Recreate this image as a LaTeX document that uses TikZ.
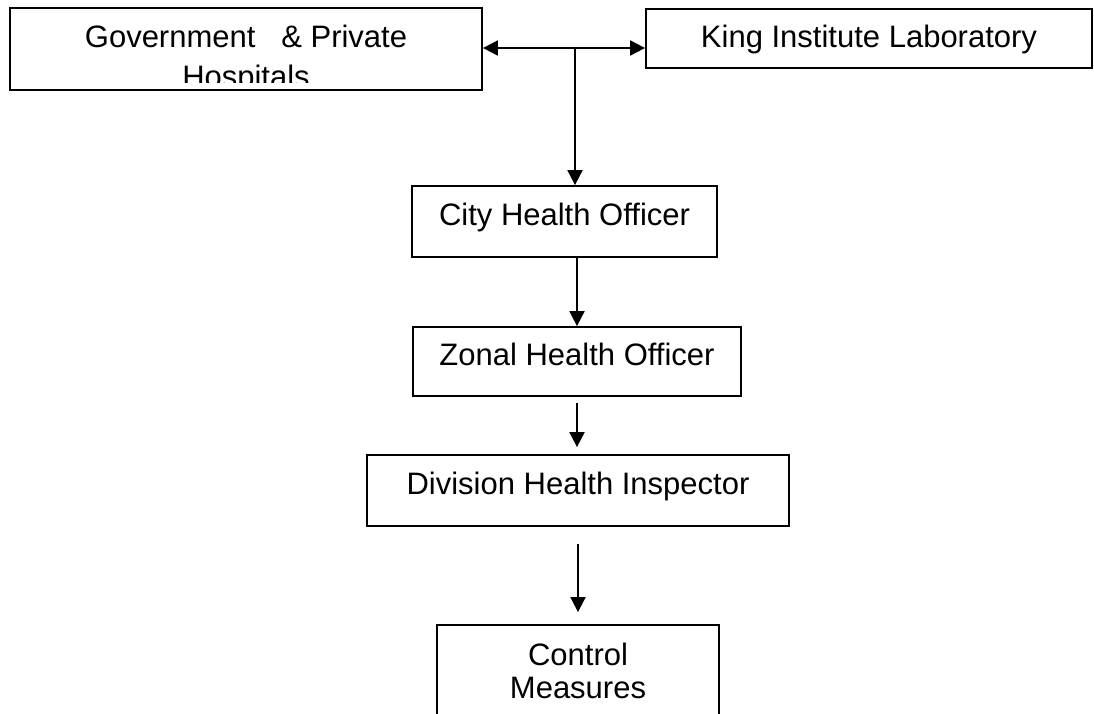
\documentclass[tikz,border=0pt]{standalone}
\usepackage{fontspec}
\setmainfont{Liberation Sans}
\usetikzlibrary{arrows.meta}
\begin{document}
\begin{tikzpicture}[x=1pt, y=-1pt,
  box/.style={draw, line width=1.8pt, inner sep=0pt, rectangle,
    font=\fontsize{31}{40}\selectfont, text height=22pt, text depth=14pt},
  txt/.style={inner sep=0pt, font=\fontsize{31}{40}\selectfont},
  link/.style={line width=1.8pt, -{Triangle[length=15pt, width=15pt]}},
  dlink/.style={line width=1.8pt, {Triangle[length=15pt, width=15pt]}-{Triangle[length=15pt, width=15pt]}}
]
\clip (0,0) rectangle (1094,713);
\fill[white] (0,0) rectangle (1094,713);

% top row
\node[box, minimum width=472pt, minimum height=82pt] (gov) at (246,49) {};
\node[txt, anchor=base] (govA) at (246,47) {Government\ \ \ \& Private};
\begin{scope}
  \clip (gov.north west) rectangle ([yshift=8pt]gov.south east);
  \node[txt, anchor=base] (govB) at (246,87) {Hospitals};
\end{scope}
\node[box, minimum width=446pt, minimum height=59pt, text depth=5pt] (king) at (869,38.5) {King Institute Laboratory};

% chain of officers
\node[box, minimum width=305pt, minimum height=71pt] (city) at (564.5,221.5) {City Health Officer};
\node[box, minimum width=328pt, minimum height=69pt] (zonal) at (577,361.5) {Zonal Health Officer};
\node[box, minimum width=422pt, minimum height=71pt] (div) at (578,490.5) {Division Health Inspector};
\node[box, minimum width=282pt, minimum height=140pt] (ctrl) at (578,695) {};
\node[txt, anchor=base] (ctrlA) at (578,665) {Control};
\node[txt, anchor=base] (ctrlB) at (578,698) {Measures};

% connectors
\coordinate (j) at (575,48);
\coordinate (c1) at (577,0);
\coordinate (c2) at (578,0);
\draw[dlink] (gov.east |- j) -- (king.west |- j);
\draw[link] (j) -- (j |- city.north);
\draw[link] (city.south -| c1) -- (zonal.north -| c1);
\draw[link, shorten <=6pt, shorten >=7pt] (zonal.south -| c1) -- (div.north -| c1);
\draw[link, shorten <=17pt, shorten >=12pt] (div.south -| c2) -- (ctrl.north -| c2);
\end{tikzpicture}
\end{document}
